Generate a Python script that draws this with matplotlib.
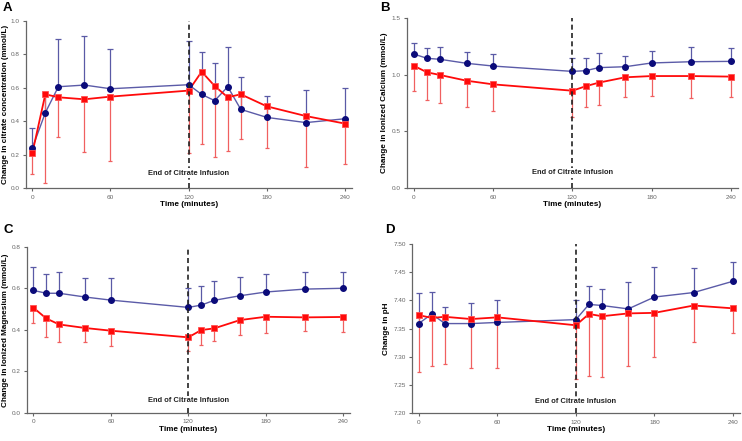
import numpy as np
import matplotlib
matplotlib.use('Agg')
import matplotlib.pyplot as plt
from matplotlib.transforms import blended_transform_factory

plt.rcParams['font.family'] = ['Liberation Sans', 'DejaVu Sans']

# time points (minutes)
t_a = [0, 10, 20, 40, 60, 120, 130, 140, 150, 160, 180, 210, 240]
t_bcd = [0, 10, 20, 40, 60, 120, 130, 140, 160, 180, 210, 240]

# panel A - citrate
a_blue = [0.239, 0.451, 0.606, 0.616, 0.594, 0.618, 0.560, 0.523, 0.606, 0.471, 0.423, 0.392, 0.415]
a_blue_hi = [0.358, 0.570, 0.889, 0.909, 0.829, 0.879, 0.811, 0.750, 0.841, 0.666, 0.553, 0.586, 0.600]
a_red = [0.209, 0.561, 0.543, 0.531, 0.547, 0.583, 0.696, 0.610, 0.543, 0.561, 0.489, 0.431, 0.386]
a_red_lo = [0.085, 0.030, 0.308, 0.219, 0.165, 0.210, 0.264, 0.189, 0.225, 0.292, 0.239, 0.125, 0.143]

# panel B - ionized calcium
b_blue = [1.181, 1.143, 1.134, 1.099, 1.075, 1.028, 1.034, 1.061, 1.069, 1.102, 1.113, 1.116]
b_blue_hi = [1.280, 1.231, 1.245, 1.195, 1.178, 1.143, 1.149, 1.193, 1.166, 1.210, 1.239, 1.231]
b_red = [1.078, 1.020, 0.996, 0.946, 0.914, 0.858, 0.897, 0.929, 0.976, 0.987, 0.987, 0.982]
b_red_lo = [0.856, 0.774, 0.747, 0.718, 0.680, 0.630, 0.718, 0.735, 0.806, 0.815, 0.797, 0.800]

# panel C - ionized magnesium
c_blue = [0.590, 0.576, 0.576, 0.558, 0.543, 0.508, 0.519, 0.542, 0.564, 0.582, 0.596, 0.600]
c_blue_hi = [0.702, 0.667, 0.680, 0.648, 0.651, 0.603, 0.612, 0.636, 0.656, 0.670, 0.678, 0.680]
c_red = [0.507, 0.455, 0.426, 0.409, 0.396, 0.364, 0.399, 0.407, 0.447, 0.463, 0.460, 0.462]
c_red_lo = [0.431, 0.367, 0.340, 0.340, 0.322, 0.298, 0.329, 0.345, 0.374, 0.386, 0.394, 0.391]

# panel D - pH
d_blue = [7.359, 7.376, 7.359, 7.359, 7.361, 7.366, 7.393, 7.391, 7.385, 7.406, 7.414, 7.434]
d_blue_hi = [7.414, 7.415, 7.389, 7.395, 7.400, 7.401, 7.426, 7.420, 7.433, 7.460, 7.457, 7.468]
d_red = [7.374, 7.369, 7.371, 7.367, 7.370, 7.356, 7.376, 7.372, 7.377, 7.378, 7.391, 7.386]
d_red_lo = [7.273, 7.283, 7.288, 7.281, 7.281, 7.260, 7.266, 7.264, 7.284, 7.300, 7.327, 7.342]

W, H = 742, 441
fig = plt.figure(figsize=(W / 100, H / 100), dpi=100)

NAVY = '#0b0b7a'
BLUE_LINE = '#5b5ba8'
BLUE_ERR = '#5a5aa6'
RED = '#ff0a0a'
RED_ERR = '#f06060'
GRAY = '#666666'


def make_axes(x0, x240, ybot, ytop):
    s = (x240 - x0) / 240
    left = x0 - 5 * s
    width = 250 * s
    return fig.add_axes([left / W, 1 - ybot / H, width / W, (ybot - ytop) / H])


def panel(ax, label_x, t, blue, blue_hi, red, red_lo, ylim, yticks, fmt, ylabel,
          letter, letter_xy, text_frac):
    blue = np.array(blue); red = np.array(red)
    ax.errorbar(t, blue, yerr=[np.zeros_like(blue), np.array(blue_hi) - blue],
                fmt='none', ecolor=BLUE_ERR, elinewidth=0.9, capsize=2, capthick=0.9, zorder=2)
    ax.errorbar(t, red, yerr=[red - np.array(red_lo), np.zeros_like(red)],
                fmt='none', ecolor=RED_ERR, elinewidth=0.9, capsize=1.5, capthick=0.9, zorder=2)
    ax.plot(t, blue, color=BLUE_LINE, lw=1.0, zorder=3)
    ax.plot(t, blue, 'o', color=NAVY, ms=4, mec=NAVY, zorder=4)
    ax.plot(t, red, color=RED, lw=1.3, zorder=3)
    ax.plot(t, red, 's', color=RED, ms=4.3, mec='#ff5050', mew=0.6, zorder=4)

    ax.set_xlim(-5, 245)
    ax.set_ylim(*ylim)
    ax.axvline(120, color='#222222', ls=(0, (3, 2)), lw=1.2, zorder=5)
    ymin, ymax = ylim
    ax.text(120, ymin + text_frac * (ymax - ymin), 'End of Citrate Infusion',
            ha='center', va='center', fontsize=5.4, fontweight='bold', color='#222222',
            bbox=dict(facecolor='white', edgecolor='none', pad=1.0), zorder=6)

    ax.set_xticks([0, 60, 120, 180, 240])
    ax.set_yticks(yticks)
    ax.set_yticklabels([fmt.format(v) for v in yticks])
    ax.tick_params(labelsize=4.6, colors=GRAY, length=2.5, width=0.8, pad=2)
    for side in ['top', 'right']:
        ax.spines[side].set_visible(False)
    for side in ['left', 'bottom']:
        ax.spines[side].set_color(GRAY)
        ax.spines[side].set_linewidth(0.9)
    ax.set_xlabel('Time (minutes)', fontsize=5.9, fontweight='bold', labelpad=1)
    ax.set_ylabel(ylabel, fontsize=5.9, fontweight='bold', va='center')
    ax.yaxis.set_label_coords(0, 0.5)
    ax.yaxis.label.set_transform(blended_transform_factory(fig.transFigure, ax.transAxes))
    ax.yaxis.label.set_position((label_x / W, 0.5))
    fig.text(letter_xy[0] / W, 1 - letter_xy[1] / H, letter, fontsize=9.5,
             fontweight='bold', ha='left', va='top')


axA = make_axes(32.3, 345, 188.3, 20.7)
panel(axA, 6, t_a, a_blue, a_blue_hi, a_red, a_red_lo, (0, 1.0), [0, 0.2, 0.4, 0.6, 0.8, 1.0],
      '{:.1f}', 'Change in citrate concentration (mmol/L)', 'A', (3, 2), 0.09)

axB = make_axes(413.7, 731, 188.3, 17.7)
panel(axB, 384.5, t_bcd, b_blue, b_blue_hi, b_red, b_red_lo, (0, 1.5), [0, 0.5, 1.0, 1.5],
      '{:.1f}', 'Change in Ionized Calcium (mmol/L)', 'B', (380, 2), 0.09)

axC = make_axes(33.3, 343.3, 413, 246.7)
panel(axC, 6, t_bcd, c_blue, c_blue_hi, c_red, c_red_lo, (0, 0.8), [0, 0.2, 0.4, 0.6, 0.8],
      '{:.1f}', 'Change in Ionized Magnesium (mmol/L)', 'C', (3, 224), 0.075)

axD = make_axes(418.7, 733, 413.3, 244)
panel(axD, 386, t_bcd, d_blue, d_blue_hi, d_red, d_red_lo, (7.20, 7.50),
      [7.20, 7.25, 7.30, 7.35, 7.40, 7.45, 7.50], '{:.2f}', 'Change in pH', 'D', (385, 224), 0.067)

fig.savefig('out.png', dpi=100)
